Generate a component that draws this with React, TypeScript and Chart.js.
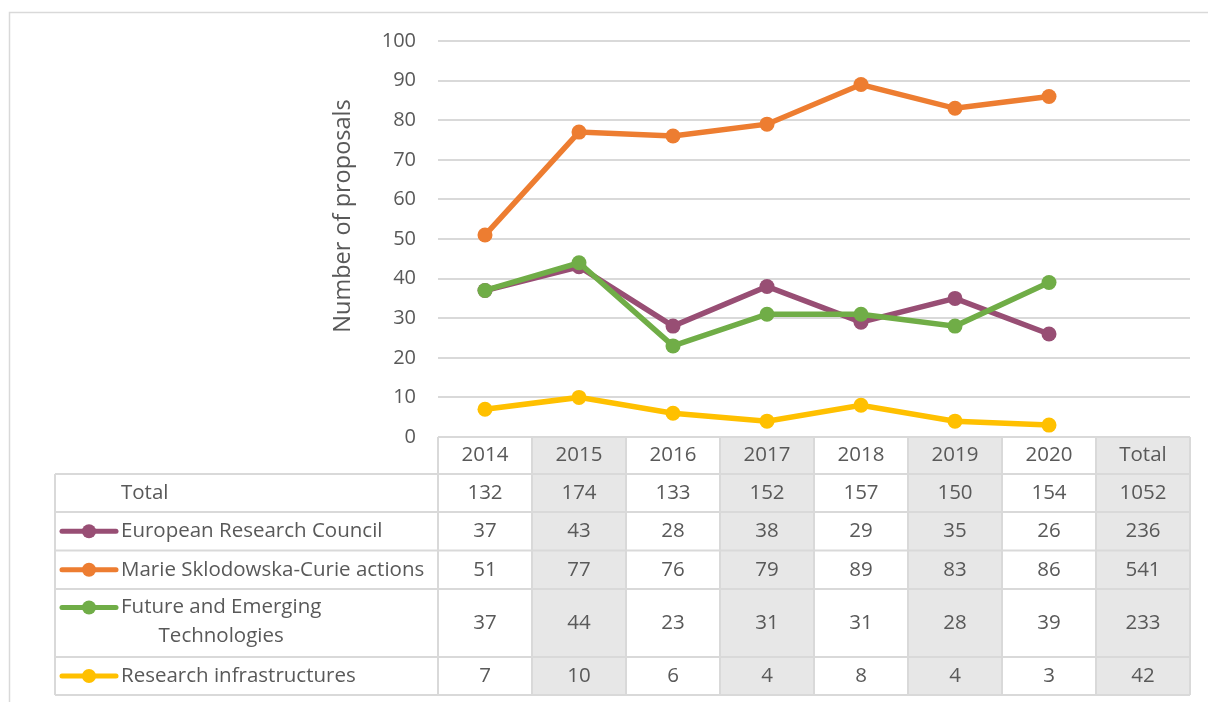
import React, { useEffect, useRef } from 'react';
import { Chart, registerables } from 'chart.js';

Chart.register(...registerables);

const categories = ['2014', '2015', '2016', '2017', '2018', '2019', '2020', 'Total'];
const seriesNames = [
  'European Research Council',
  'Marie Sklodowska-Curie actions',
  'Future and Emerging Technologies',
  'Research infrastructures',
];
const seriesLabelLines = [
  ['European Research Council'],
  ['Marie Sklodowska-Curie actions'],
  ['Future and Emerging', 'Technologies'],
  ['Research infrastructures'],
];
const ercValues = [37, 43, 28, 38, 29, 35, 26];
const mscaValues = [51, 77, 76, 79, 89, 83, 86];
const fetValues = [37, 44, 23, 31, 31, 28, 39];
const riValues = [7, 10, 6, 4, 8, 4, 3];
const seriesTotals = [236, 541, 233, 42];
const yearTotals = [132, 174, 133, 152, 157, 150, 154];
const grandTotal = 1052;
const seriesColors = ['#984E74', '#ED7D31', '#70AD47', '#FFC000'];
const yAxisTitle = 'Number of proposals';
const totalRowLabel = 'Total';

const TEXT = '#595959';
const GRID = '#D9D9D9';
const SHADE = '#E7E7E7';
const FONT = "'Open Sans', sans-serif";

const allSeries = [ercValues, mscaValues, fetValues, riValues];

const tablePlugin = {
  id: 'dataTable',
  beforeDraw(chart: any) {
    const { ctx } = chart;
    ctx.save();
    ctx.fillStyle = '#ffffff';
    ctx.fillRect(0, 0, chart.width, chart.height);
    ctx.strokeStyle = GRID;
    ctx.lineWidth = 1.5;
    ctx.beginPath();
    ctx.moveTo(9.5, chart.height + 5);
    ctx.lineTo(9.5, 12.5);
    ctx.lineTo(chart.width + 5, 12.5);
    ctx.stroke();
    ctx.restore();
  },
  afterDraw(chart: any) {
    const { ctx, chartArea } = chart;
    const x = chart.scales.x;
    const n = categories.length;
    const colW = (chartArea.right - chartArea.left) / n;
    const tableLeft = 55;
    const rowHeights = [37, 38, 38.5, 38.5, 68, 38];
    const rowTops: number[] = [];
    let yy = chartArea.bottom;
    for (const h of rowHeights) {
      rowTops.push(yy);
      yy += h;
    }
    const tableBottom = yy;
    const top = chartArea.bottom;

    ctx.save();
    ctx.fillStyle = SHADE;
    for (let i = 1; i < n; i += 2) {
      const cx = x.getPixelForValue(i);
      ctx.fillRect(cx - colW / 2, top, colW, tableBottom - top);
    }
    ctx.strokeStyle = GRID;
    ctx.lineWidth = 2;
    ctx.beginPath();
    ctx.moveTo(chartArea.left, top);
    ctx.lineTo(chartArea.right, top);
    for (let r = 1; r <= rowHeights.length; r++) {
      const ly = r < rowHeights.length ? rowTops[r] : tableBottom;
      ctx.moveTo(tableLeft, ly);
      ctx.lineTo(chartArea.right, ly);
    }
    ctx.moveTo(tableLeft, rowTops[1]);
    ctx.lineTo(tableLeft, tableBottom);
    for (let i = 0; i <= n; i++) {
      const vx = i < n ? x.getPixelForValue(i) - colW / 2 : x.getPixelForValue(n - 1) + colW / 2;
      ctx.moveTo(vx, top);
      ctx.lineTo(vx, tableBottom);
    }
    ctx.stroke();

    ctx.fillStyle = TEXT;
    ctx.font = `20.5px ${FONT}`;
    ctx.textBaseline = 'middle';
    ctx.textAlign = 'center';
    const mid = (r: number) => rowTops[r] + rowHeights[r] / 2;
    categories.forEach((c, i) => ctx.fillText(c, x.getPixelForValue(i), mid(0)));
    yearTotals.forEach((v, i) => ctx.fillText(String(v), x.getPixelForValue(i), mid(1)));
    ctx.fillText(String(grandTotal), x.getPixelForValue(n - 1), mid(1));
    ctx.textAlign = 'left';
    ctx.fillText(totalRowLabel, 121, mid(1));
    allSeries.forEach((vals, s) => {
      const r = s + 2;
      const my = mid(r);
      ctx.textAlign = 'center';
      vals.forEach((v, i) => ctx.fillText(String(v), x.getPixelForValue(i), my));
      ctx.fillText(String(seriesTotals[s]), x.getPixelForValue(n - 1), my);
      const lines = seriesLabelLines[s];
      const lh = 29;
      const firstY = lines.length > 1 ? my - lh / 2 - 1 : my;
      ctx.strokeStyle = seriesColors[s];
      ctx.lineWidth = 5;
      ctx.lineCap = 'round';
      ctx.beginPath();
      ctx.moveTo(62, firstY);
      ctx.lineTo(116, firstY);
      ctx.stroke();
      ctx.fillStyle = seriesColors[s];
      ctx.beginPath();
      ctx.arc(89, firstY, 7, 0, Math.PI * 2);
      ctx.fill();
      ctx.fillStyle = TEXT;
      ctx.textAlign = 'left';
      ctx.fillText(lines[0], 121, firstY);
      if (lines.length > 1) {
        const w0 = ctx.measureText(lines[0]).width;
        ctx.textAlign = 'center';
        for (let k = 1; k < lines.length; k++) {
          ctx.fillText(lines[k], 121 + w0 / 2, firstY + lh * k);
        }
      }
    });

    ctx.save();
    ctx.translate(343, 216);
    ctx.rotate(-Math.PI / 2);
    ctx.textAlign = 'center';
    ctx.textBaseline = 'middle';
    ctx.fillStyle = TEXT;
    ctx.font = `23.5px ${FONT}`;
    ctx.fillText(yAxisTitle, 0, 0);
    ctx.restore();
    ctx.restore();
  },
};

export default function App() {
  const ref = useRef<HTMLCanvasElement | null>(null);
  useEffect(() => {
    if (!ref.current) return;
    const chart = new Chart(ref.current, {
      type: 'line',
      data: {
        labels: categories,
        datasets: allSeries.map((vals, s) => ({
          label: seriesNames[s],
          data: [...vals, null],
          borderColor: seriesColors[s],
          backgroundColor: seriesColors[s],
          pointBackgroundColor: seriesColors[s],
          pointBorderWidth: 0,
          pointRadius: 7.5,
          borderWidth: 5.5,
          tension: 0,
          spanGaps: false,
          order: allSeries.length - s,
        })),
      },
      options: {
        animation: false,
        responsive: false,
        devicePixelRatio: 1,
        layout: { padding: { left: 0, top: 41, right: 18, bottom: 265 } },
        plugins: { legend: { display: false }, tooltip: { enabled: false }, title: { display: false } },
        scales: {
          x: { type: 'category', display: false, offset: true },
          y: {
            min: 0,
            max: 100,
            afterFit: (scale: any) => {
              scale.width = 438;
            },
            ticks: { stepSize: 10, padding: 22, color: TEXT, font: { family: FONT, size: 20 } },
            grid: { color: GRID, lineWidth: 2, drawTicks: false },
            border: { display: false },
          },
        },
      },
      plugins: [tablePlugin],
    });
    return () => chart.destroy();
  }, []);
  return (
    <div style={{ position: 'absolute', left: 0, top: 0, width: 1208, height: 702 }}>
      <canvas ref={ref} width={1208} height={702} style={{ width: 1208, height: 702, display: 'block' }} />
    </div>
  );
}
